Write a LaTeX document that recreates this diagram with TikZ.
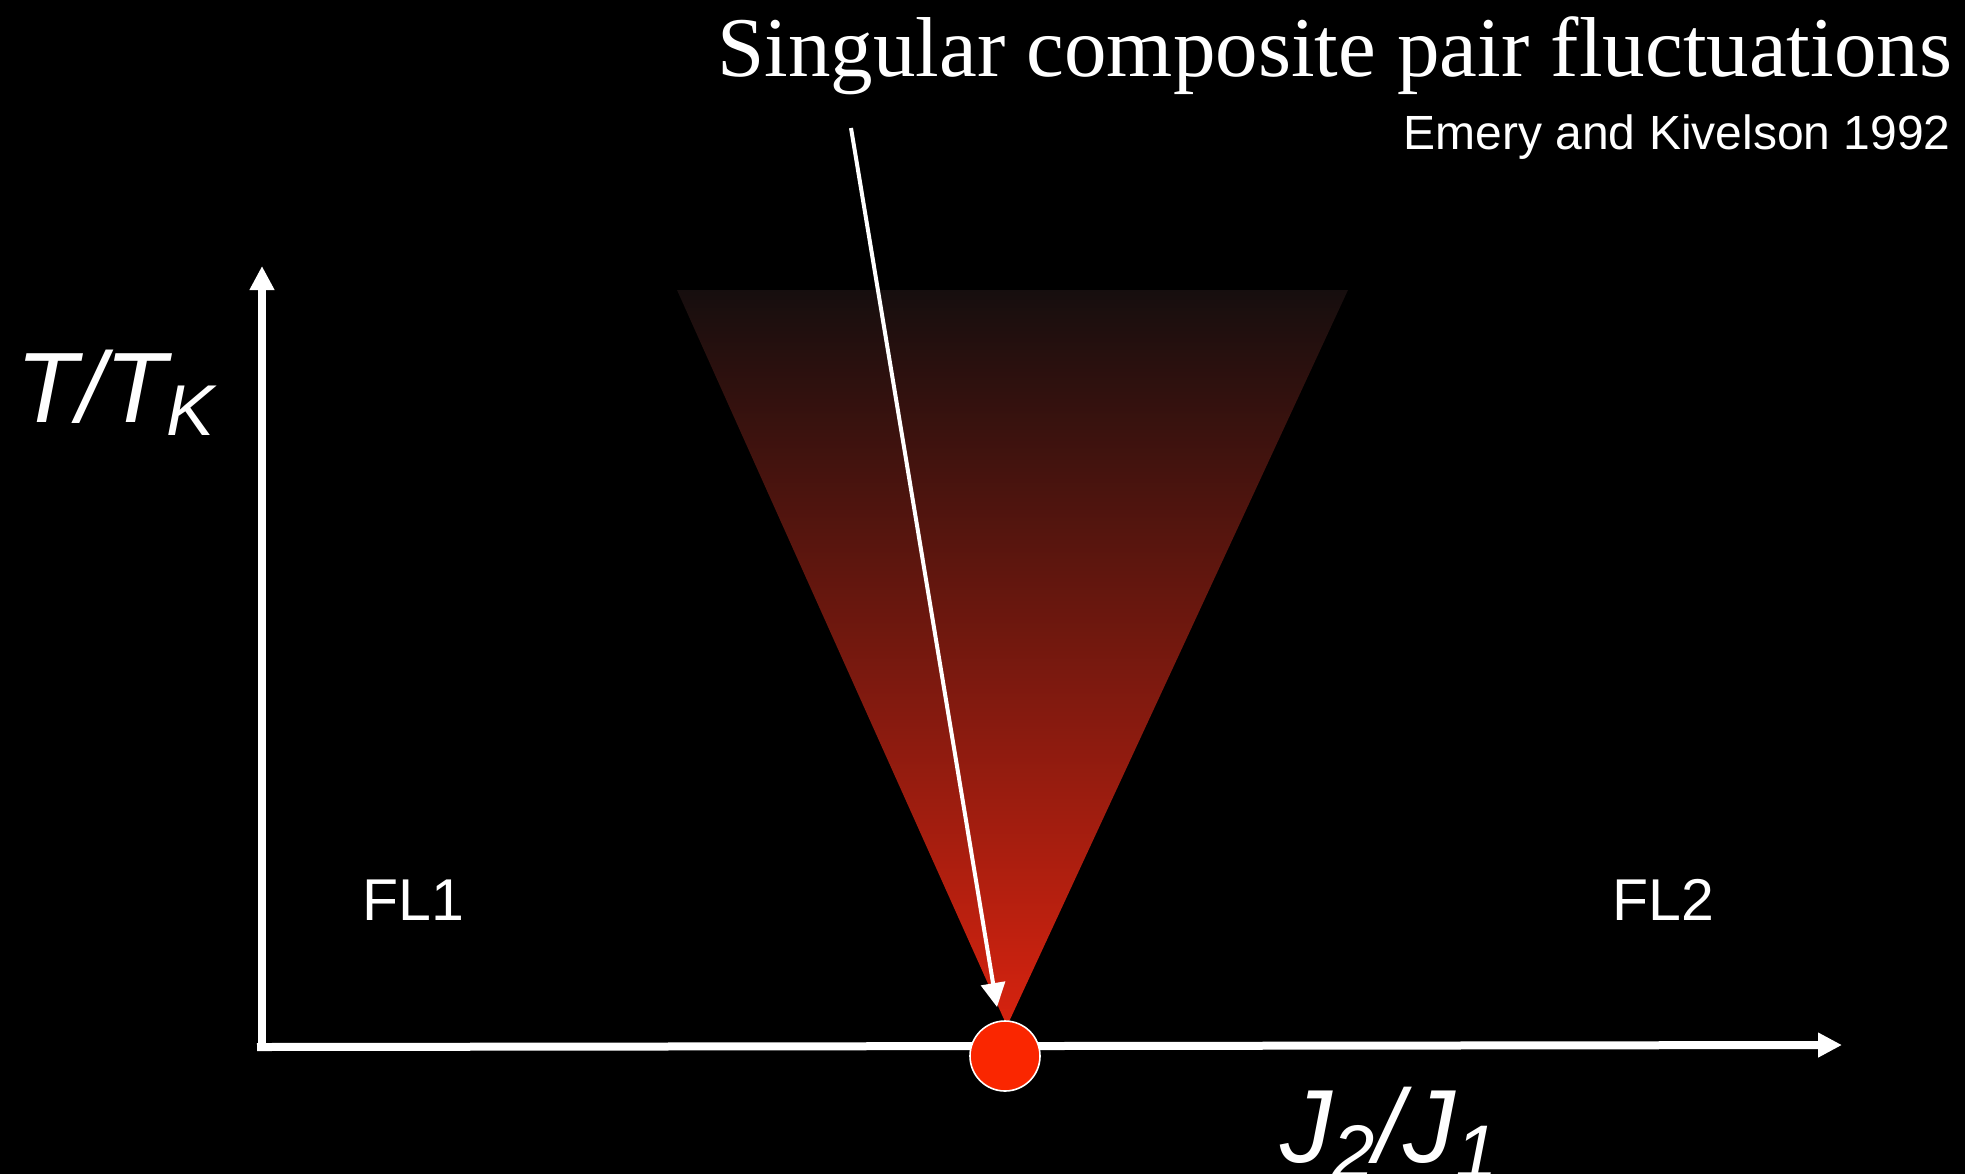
\documentclass[tikz,border=0pt]{standalone}
\usepackage{fontspec}
\setmainfont{Liberation Serif}
\newfontfamily\hv{Liberation Sans}
\usetikzlibrary{arrows.meta}
\definecolor{dotred}{RGB}{250,38,0}
\definecolor{ctop}{RGB}{22,14,14}
\definecolor{cmid}{RGB}{100,24,14}
\definecolor{cbot}{RGB}{215,35,15}
\tikzset{
  axisline/.style={white, line width=4pt, -{Triangle[length=12pt,width=11.7pt]}},
  pointer/.style={white, line width=2pt, -{Triangle[length=12pt,width=12pt]}},
  lbl/.style={text=white, inner sep=0pt},
}
\begin{document}
\begin{tikzpicture}[x=0.5pt,y=-0.5pt]
\fill[black] (0,0) rectangle (1965,1174);
\useasboundingbox (0,0) rectangle (1965,1174);
% gradient cone
\shade[top color=ctop, middle color=cmid, bottom color=cbot] (677,290) -- (1348,290) -- (1007,1026) -- cycle;
% axes
\coordinate (origin) at (262,1048);
\coordinate (ytip) at (262,266);
\coordinate (xstart) at (257,1047);
\coordinate (xtip) at (1842,1045);
\draw[axisline] (origin) -- (ytip);
\draw[axisline] (xstart) -- (xtip);
% critical point
\node[circle, fill=dotred, draw=white, line width=0.8pt, minimum size=35pt, inner sep=0pt] (dot) at (1005,1056) {};
% pointer
\coordinate (ptrstart) at (851,128);
\coordinate (ptrend) at (997,1007);
\draw[pointer] (ptrstart) -- (ptrend);
% texts
\node[lbl, anchor=base west] (title) at (717,76) {\fontsize{42.5}{42.5}\selectfont Singular composite pair fluctuations};
\node[lbl, anchor=base east] (ref) at (1951,149) {\hv\fontsize{24}{24}\selectfont Emery and Kivelson 1992};
\node[lbl, anchor=base west] (ylab) at (16,422) {\hv\itshape\fontsize{50}{50}\selectfont T/T\raisebox{-6.5pt}{\fontsize{36}{36}\selectfont K}};
\node[lbl, anchor=base west] (xlab) at (1280,1162) {\hv\itshape\fontsize{52}{52}\selectfont J\raisebox{-8pt}{\fontsize{38}{38}\selectfont 2}/J\raisebox{-8pt}{\fontsize{38}{38}\selectfont 1}};
\node[lbl, anchor=base west] (fl1) at (362,920) {\hv\fontsize{29.5}{29.5}\selectfont FL1};
\node[lbl, anchor=base west] (fl2) at (1612,920) {\hv\fontsize{29.5}{29.5}\selectfont FL2};
\end{tikzpicture}
\end{document}
